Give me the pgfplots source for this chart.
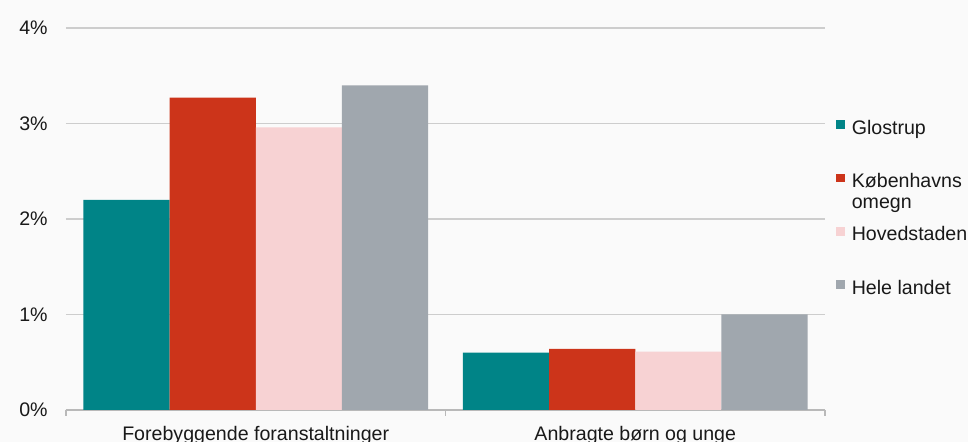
\documentclass[border=0pt]{standalone}
\usepackage{fontspec}
\setmainfont{Liberation Sans}
\usepackage{pgfplots}
\pgfplotsset{compat=1.18}
\definecolor{cA}{RGB}{0,132,135}
\definecolor{cB}{RGB}{204,52,26}
\definecolor{cC}{RGB}{247,210,211}
\definecolor{cD}{RGB}{160,167,174}
\definecolor{bg}{RGB}{250,250,250}
\definecolor{gridgray}{RGB}{205,205,205}
\definecolor{axisgray}{RGB}{185,185,185}
\definecolor{txt}{RGB}{25,25,25}
\begin{document}
\fontsize{9.8pt}{10.8pt}\selectfont
\begin{tikzpicture}
\path[use as bounding box, fill=bg] (0,0) rectangle (484pt,221pt);
\clip (0,0) rectangle (484pt,221pt);
\begin{axis}[
  at={(33pt,16pt)}, anchor=south west,
  scale only axis, width=379.5pt, height=191pt,
  xmin=-0.5, xmax=1.5, ymin=0, ymax=4,
  ybar=0pt, bar width=43.1pt,
  axis x line=bottom, axis y line=left,
  x axis line style={-, draw=axisgray, line width=0.7pt},
  y axis line style={draw=none},
  xtick={0,1},
  xticklabels={Forebyggende foranstaltninger, Anbragte børn og unge},
  minor xtick={-0.5,0.5,1.5},
  major tick length=0pt, minor tick length=3pt, tick align=outside,
  minor x tick style={draw=axisgray, line width=0.7pt},
  ytick={0,1,2,3,4},
  yticklabels={0\%,1\%,2\%,3\%,4\%},
  ymajorgrids, grid style={draw=gridgray, line width=0.6pt},
  tick label style={font=\fontsize{9.8pt}{10.8pt}\selectfont, text=txt},
  x tick label style={yshift=-4.5pt},
  y tick label style={xshift=-5.7pt},
  legend style={at={(1.0145,0.759)}, anchor=north west, draw=none, fill=none,
    inner sep=0pt, outer sep=0pt, row sep=17.7pt,
    font=\fontsize{9.8pt}{10.6pt}\selectfont, text=txt,
    nodes={inner sep=0pt, text height=7pt, text depth=2pt},
    /tikz/every odd column/.append style={column sep=3.5pt}},
  legend cell align=left,
  legend image code/.code={\path[#1, draw=none] (0pt,0pt) rectangle (4.4pt,4.4pt);},
]
\addplot[fill=cA, draw=none] coordinates {(0,2.20) (1,0.60)};
\addlegendentry{Glostrup}
\addplot[fill=cB, draw=none] coordinates {(0,3.27) (1,0.64)};
\addlegendentry{\begin{tabular}[t]{@{}l@{}}Københavns\\omegn\end{tabular}}
\addplot[fill=cC, draw=none] coordinates {(0,2.96) (1,0.61)};
\addlegendentry{Hovedstaden}
\addplot[fill=cD, draw=none] coordinates {(0,3.40) (1,1.00)};
\addlegendentry{Hele landet}
\end{axis}
\end{tikzpicture}
\end{document}
